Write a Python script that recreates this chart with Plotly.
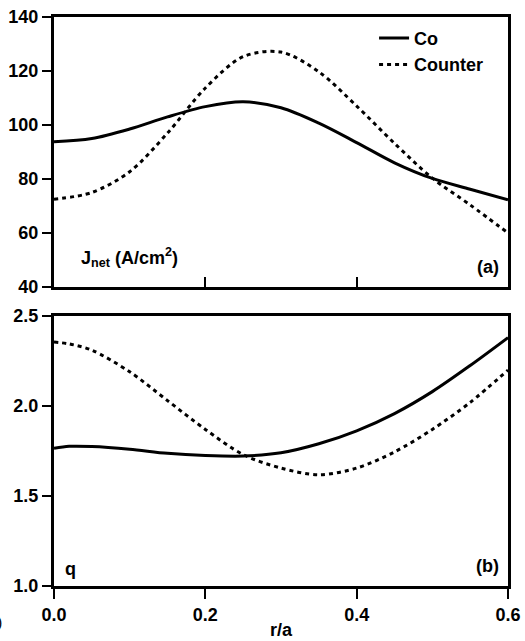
import plotly.graph_objects as go
from plotly.subplots import make_subplots

# r/a positions
r = [0.0, 0.05, 0.1, 0.15, 0.2, 0.25, 0.3, 0.35, 0.4, 0.45, 0.5, 0.55, 0.6]

# (a) J_net (A/cm^2)
jnet_co = [93.8, 95.0, 98.5, 103.0, 106.8, 108.6, 106.4, 100.7, 93.5, 86.0, 80.2, 76.2, 72.3]
jnet_counter = [72.5, 75.0, 82.7, 97.0, 113.7, 125.3, 127.0, 119.7, 107.0, 93.2, 80.3, 70.4, 60.0]

# (b) q
q_r = [0.0, 0.02, 0.05, 0.1, 0.15, 0.2, 0.25, 0.3, 0.35, 0.4, 0.45, 0.5, 0.55, 0.6]
q_co = [1.765, 1.776, 1.775, 1.76, 1.737, 1.725, 1.722, 1.74, 1.79, 1.862, 1.958, 2.08, 2.225, 2.38]
q_counter = [2.355, 2.345, 2.31, 2.19, 2.03, 1.87, 1.73, 1.655, 1.618, 1.655, 1.745, 1.87, 2.02, 2.2]

xticks = [0.0, 0.2, 0.4, 0.6]
yticks_a = [40, 60, 80, 100, 120, 140]
yticks_b = [1.0, 1.5, 2.0, 2.5]

FONT = "Liberation Sans"
fig = make_subplots(rows=2, cols=1, shared_xaxes=False, vertical_spacing=0.051)

dotdash = "4px,4px"
fig.add_trace(go.Scatter(x=r, y=jnet_co, mode="lines", name="Co",
                         line=dict(color="black", width=3, shape="spline", smoothing=0.9)), row=1, col=1)
fig.add_trace(go.Scatter(x=r, y=jnet_counter, mode="lines", name="Counter",
                         line=dict(color="black", width=3, dash=dotdash, shape="spline", smoothing=0.9)), row=1, col=1)
fig.add_trace(go.Scatter(x=q_r, y=q_co, mode="lines", showlegend=False,
                         line=dict(color="black", width=3, shape="spline", smoothing=0.9)), row=2, col=1)
fig.add_trace(go.Scatter(x=q_r, y=q_counter, mode="lines", showlegend=False,
                         line=dict(color="black", width=3, dash=dotdash, shape="spline", smoothing=0.9)), row=2, col=1)

axis_common = dict(showline=True, linecolor="black", linewidth=3, mirror=True,
                   showgrid=False, zeroline=False, tickcolor="black", tickwidth=2,
                   automargin=False,
                   tickfont=dict(family=FONT, size=18, color="black", weight="bold"))

fig.update_xaxes(range=[0, 0.6], tickvals=xticks, showticklabels=False,
                 ticks="inside", ticklen=10, row=1, col=1, **axis_common)
fig.update_xaxes(range=[0, 0.6], tickvals=xticks, ticktext=[f"{v:.1f}" for v in xticks],
                 ticks="outside", ticklen=10, row=2, col=1, **axis_common)
fig.update_yaxes(range=[40, 140], tickvals=yticks_a, ticks="outside", ticklen=9,
                 row=1, col=1, **axis_common)
fig.update_yaxes(range=[1.0, 2.5], tickvals=yticks_b, ticktext=[f"{v:.1f}" for v in yticks_b],
                 ticks="outside", ticklen=9, row=2, col=1, **axis_common)

tfont = dict(family=FONT, size=18, color="black", weight="bold")
annotations = [
    dict(text="J<sub>net</sub> (A/cm<sup>2</sup>)", x=0.055, y=0.055, xref="x domain", yref="y domain",
         xanchor="left", yanchor="bottom", showarrow=False, font=tfont),
    dict(text="(a)", x=0.985, y=0.03, xref="x domain", yref="y domain",
         xanchor="right", yanchor="bottom", showarrow=False, font=tfont),
    dict(text="q", x=0.02, y=0.02, xref="x2 domain", yref="y2 domain",
         xanchor="left", yanchor="bottom", showarrow=False, font=tfont),
    dict(text="(b)", x=0.985, y=0.03, xref="x2 domain", yref="y2 domain",
         xanchor="right", yanchor="bottom", showarrow=False, font=tfont),
    dict(text="r/a", x=0.5, y=-0.163, xref="x2 domain", yref="y2 domain",
         xanchor="center", yanchor="middle", showarrow=False, font=tfont),
    dict(text=")", x=-0.13, y=-0.137, xref="x2 domain", yref="y2 domain",
         xanchor="left", yanchor="middle", showarrow=False,
         font=dict(family=FONT, size=16, color="black")),
]

fig.update_layout(
    width=525, height=641,
    margin=dict(l=54, r=17, t=17, b=55, autoexpand=False),
    paper_bgcolor="white", plot_bgcolor="white",
    annotations=annotations,
    legend=dict(x=0.705, y=0.995, xanchor="left", yanchor="top",
                bgcolor="rgba(0,0,0,0)", font=tfont, tracegroupgap=0,
                itemwidth=30),
    showlegend=True,
)

fig.write_html("out.html")
